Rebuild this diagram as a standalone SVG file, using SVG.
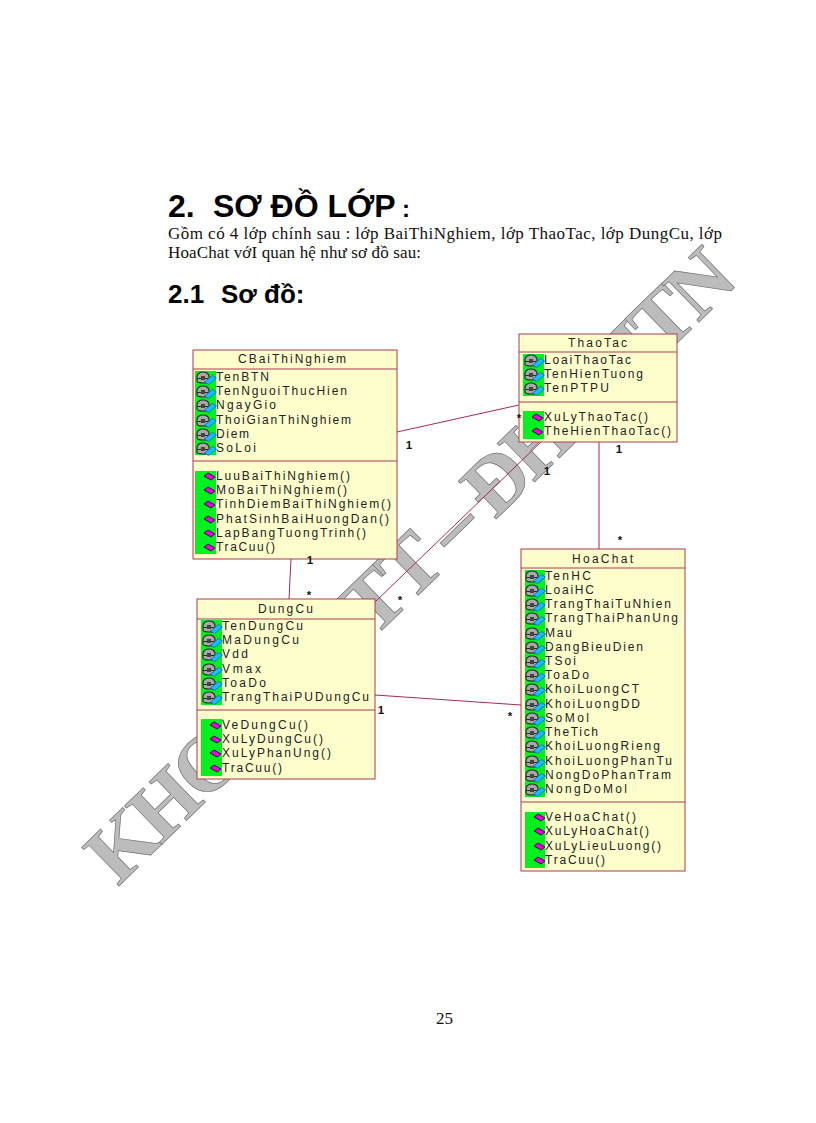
<svg xmlns="http://www.w3.org/2000/svg" width="816" height="1123" viewBox="0 0 816 1123">
<style>
.h{font-family:"Liberation Sans",Arial,sans-serif;font-weight:700;fill:#000}
.b{font-family:"Liberation Serif","Times New Roman",serif;font-size:17px;fill:#111}
.wm{font-family:"Liberation Serif","Times New Roman",serif;font-weight:700;font-size:82px;fill:#bcbcbc;stroke:#707070;stroke-width:.7}
.box{fill:url(#dots);stroke:#a83a55;stroke-width:1}
.div{stroke:#a83a55;stroke-width:1}
.g{fill:#00f020}
.t{font-family:"Liberation Sans",Arial,sans-serif;font-size:12px;fill:#222}
.c{fill:none;stroke:#a02c4c;stroke-width:1}
.l{font-family:"Liberation Sans",Arial,sans-serif;font-size:11.5px;font-weight:700;fill:#111;text-anchor:middle}
</style>
<defs>
<pattern id="dots" width="8" height="8" patternUnits="userSpaceOnUse"><rect width="8" height="8" fill="#ffffcc"/><rect x="1" y="2" width="1" height="1" fill="#f8ead0"/><rect x="5" y="6" width="1" height="1" fill="#f8ead0"/></pattern>
<symbol id="a" width="22" height="16" viewBox="0 0 22 16" overflow="visible">
<path d="M2 11V6.500a6 4.500 0 0 1 12 0V11a6 2 0 0 1-12 0z" fill="#a8a8a8" stroke="#2a2a2a" stroke-width="1.200"/><path d="M2 8.500h12" stroke="#2a2a2a" stroke-width="1"/><rect x="6" y="6" width="4" height="4" fill="#444"/>
<path d="M9.500 12l8-6.500 4 2.500-8 6.500z" fill="#10c0ff" stroke="#1060c0" stroke-width=".8"/>
</symbol>
<symbol id="o" width="22" height="10" viewBox="0 0 22 10" overflow="visible">
<path d="M9 4l4-3 7 4-4 3z" fill="#f000d8" stroke="#301060" stroke-width="1"/>
</symbol>
</defs>

<g id="page-text">
<text class="h" y="217" font-size="32"><tspan x="168">2.</tspan><tspan x="213">SƠ ĐỒ LỚP</tspan><tspan x="402" font-size="24">:</tspan></text>
<text class="b" x="168" y="239" textLength="554">Gồm có 4 lớp chính sau : lớp BaiThiNghiem, lớp ThaoTac, lớp DungCu, lớp</text>
<text class="b" x="168" y="258" textLength="253">HoaChat vớI quan hệ như sơ đồ sau:</text>
<text class="h" y="303" font-size="26"><tspan x="168">2.1</tspan><tspan x="221">Sơ đồ:</tspan></text>
<text class="b" x="436" y="1024">25</text>
</g>

<g id="watermark"><text class="wm" transform="translate(118 887) rotate(-44.2)" textLength="868" lengthAdjust="spacing">KHOA CNTT – ĐHKHTN</text></g>

<g id="connectors">
<path class="c" d="M397 432L519 405"/>
<path class="c" d="M291 559L289 599"/>
<path class="c" d="M375 602L541 442"/>
<path class="c" d="M599 442L599 549"/>
<path class="c" d="M375 695L521 705"/>
</g>

<g id="CBaiThiNghiem">
<rect class="box" x="193" y="350" width="204" height="209"/>
<path class="div" d="M193 369H397M193 461H397"/>
<rect class="g" x="195" y="371" width="21" height="84"/><rect class="g" x="195" y="471" width="21" height="83"/>
<text class="t" x="238" y="363" textLength="108">CBaiThiNghiem</text>
<use href="#a" x="195" y="370"/><use href="#a" x="195" y="384"/><use href="#a" x="195" y="398"/><use href="#a" x="195" y="413"/><use href="#a" x="195" y="427"/><use href="#a" x="195" y="441"/>
<use href="#o" x="195" y="472"/><use href="#o" x="195" y="486"/><use href="#o" x="195" y="500"/><use href="#o" x="195" y="515"/><use href="#o" x="195" y="529"/><use href="#o" x="195" y="543"/>
<text class="t" x="216" y="381" textLength="53">TenBTN</text>
<text class="t" x="216" y="395" textLength="131">TenNguoiThucHien</text>
<text class="t" x="216" y="409" textLength="60">NgayGio</text>
<text class="t" x="216" y="424" textLength="135">ThoiGianThiNghiem</text>
<text class="t" x="216" y="438" textLength="33">Diem</text>
<text class="t" x="216" y="452" textLength="40">SoLoi</text>
<text class="t" x="216" y="480" textLength="134">LuuBaiThiNghiem()</text>
<text class="t" x="216" y="494" textLength="131">MoBaiThiNghiem()</text>
<text class="t" x="216" y="508" textLength="175">TinhDiemBaiThiNghiem()</text>
<text class="t" x="216" y="523" textLength="173">PhatSinhBaiHuongDan()</text>
<text class="t" x="216" y="537" textLength="150">LapBangTuongTrinh()</text>
<text class="t" x="216" y="551" textLength="59">TraCuu()</text>
</g>

<g id="ThaoTac">
<rect class="box" x="519" y="334" width="158" height="108"/>
<path class="div" d="M519 352H677M519 402H677"/>
<rect class="g" x="523" y="354" width="21" height="42"/><rect class="g" x="523" y="411" width="21" height="28"/>
<text class="t" x="568" y="347" textLength="59">ThaoTac</text>
<use href="#a" x="523" y="353"/><use href="#a" x="523" y="367"/><use href="#a" x="523" y="381"/>
<use href="#o" x="523" y="413"/><use href="#o" x="523" y="427"/>
<text class="t" x="544" y="364" textLength="87">LoaiThaoTac</text>
<text class="t" x="544" y="378" textLength="99">TenHienTuong</text>
<text class="t" x="544" y="392" textLength="65">TenPTPU</text>
<text class="t" x="544" y="421" textLength="104">XuLyThaoTac()</text>
<text class="t" x="544" y="435" textLength="127">TheHienThaoTac()</text>
</g>

<g id="DungCu">
<rect class="box" x="197" y="599" width="178" height="180"/>
<path class="div" d="M197 619H375M197 710H375"/>
<rect class="g" x="201" y="620" width="21" height="85"/><rect class="g" x="201" y="719" width="21" height="57"/>
<text class="t" x="258" y="613" textLength="55">DungCu</text>
<use href="#a" x="201" y="619"/><use href="#a" x="201" y="633"/><use href="#a" x="201" y="647"/><use href="#a" x="201" y="662"/><use href="#a" x="201" y="676"/><use href="#a" x="201" y="690"/>
<use href="#o" x="201" y="721"/><use href="#o" x="201" y="735"/><use href="#o" x="201" y="749"/><use href="#o" x="201" y="764"/>
<text class="t" x="222" y="630" textLength="81">TenDungCu</text>
<text class="t" x="222" y="644" textLength="77">MaDungCu</text>
<text class="t" x="222" y="658" textLength="26">Vdd</text>
<text class="t" x="222" y="673" textLength="39">Vmax</text>
<text class="t" x="222" y="687" textLength="44">ToaDo</text>
<text class="t" x="222" y="701" textLength="147">TrangThaiPUDungCu</text>
<text class="t" x="222" y="729" textLength="86">VeDungCu()</text>
<text class="t" x="222" y="743" textLength="101">XuLyDungCu()</text>
<text class="t" x="222" y="757" textLength="109">XuLyPhanUng()</text>
<text class="t" x="222" y="772" textLength="60">TraCuu()</text>
</g>

<g id="HoaChat">
<rect class="box" x="521" y="549" width="164" height="322"/>
<path class="div" d="M521 568H685M521 802H685"/>
<rect class="g" x="525" y="570" width="20" height="227"/><rect class="g" x="525" y="812" width="20" height="56"/>
<text class="t" x="572" y="563" textLength="61">HoaChat</text>
<use href="#a" x="524" y="569"/><use href="#a" x="524" y="583"/><use href="#a" x="524" y="597"/><use href="#a" x="524" y="611"/><use href="#a" x="524" y="626"/><use href="#a" x="524" y="640"/><use href="#a" x="524" y="654"/><use href="#a" x="524" y="668"/><use href="#a" x="524" y="682"/><use href="#a" x="524" y="697"/><use href="#a" x="524" y="711"/><use href="#a" x="524" y="725"/><use href="#a" x="524" y="739"/><use href="#a" x="524" y="754"/><use href="#a" x="524" y="768"/><use href="#a" x="524" y="782"/>
<use href="#o" x="525" y="813"/><use href="#o" x="525" y="827"/><use href="#o" x="525" y="842"/><use href="#o" x="525" y="856"/>
<text class="t" x="545" y="580" textLength="46">TenHC</text>
<text class="t" x="545" y="594" textLength="49">LoaiHC</text>
<text class="t" x="545" y="608" textLength="126">TrangThaiTuNhien</text>
<text class="t" x="545" y="622" textLength="133">TrangThaiPhanUng</text>
<text class="t" x="545" y="637" textLength="27">Mau</text>
<text class="t" x="545" y="651" textLength="98">DangBieuDien</text>
<text class="t" x="545" y="665" textLength="31">TSoi</text>
<text class="t" x="545" y="679" textLength="44">ToaDo</text>
<text class="t" x="545" y="693" textLength="94">KhoiLuongCT</text>
<text class="t" x="545" y="708" textLength="95">KhoiLuongDD</text>
<text class="t" x="545" y="722" textLength="44">SoMol</text>
<text class="t" x="545" y="736" textLength="53">TheTich</text>
<text class="t" x="545" y="750" textLength="115">KhoiLuongRieng</text>
<text class="t" x="545" y="765" textLength="127">KhoiLuongPhanTu</text>
<text class="t" x="545" y="779" textLength="126">NongDoPhanTram</text>
<text class="t" x="545" y="793" textLength="82">NongDoMol</text>
<text class="t" x="545" y="821" textLength="91">VeHoaChat()</text>
<text class="t" x="545" y="835" textLength="104">XuLyHoaChat()</text>
<text class="t" x="545" y="850" textLength="116">XuLyLieuLuong()</text>
<text class="t" x="545" y="864" textLength="60">TraCuu()</text>
</g>

<g id="connector-labels">
<text class="l" x="409" y="449">1</text>
<text class="l" x="310" y="564">1</text>
<text class="l" x="309" y="599">*</text>
<text class="l" x="400" y="604">*</text>
<text class="l" x="381" y="714">1</text>
<text class="l" x="510" y="720">*</text>
<text class="l" x="519" y="422">*</text>
<text class="l" x="547" y="475">1</text>
<text class="l" x="619" y="453">1</text>
<text class="l" x="620" y="544">*</text>
</g>
</svg>
